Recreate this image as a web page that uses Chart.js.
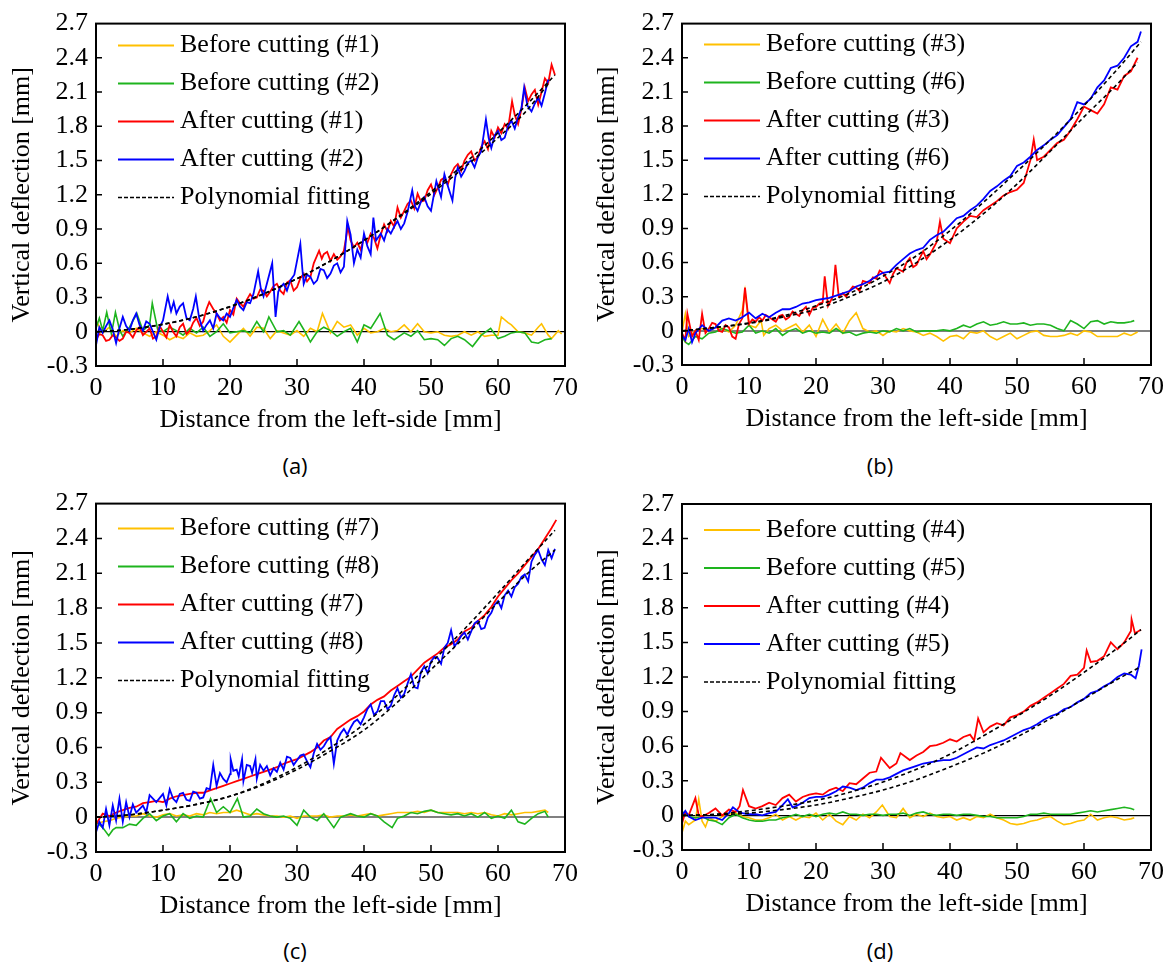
<!DOCTYPE html>
<html>
<head>
<meta charset="utf-8">
<script src="https://cdn.jsdelivr.net/npm/chart.js@4.4.0/dist/chart.umd.min.js"></script>
<style>
body { margin: 0; background: #fff; width: 1171px; height: 962px; position: relative; overflow: hidden; }
canvas { position: absolute; }
.cap { position: absolute; font-family: "Open Sans", sans-serif; font-size: 22px; transform: translate(-50%, -50%); color: #000; }
</style>
</head>
<body>
<canvas id="pa" width="585" height="450" style="left:0px;top:0px"></canvas>
<canvas id="pb" width="586" height="450" style="left:585px;top:0px"></canvas>
<canvas id="pc" width="585" height="450" style="left:0px;top:480px"></canvas>
<canvas id="pd" width="586" height="450" style="left:585px;top:480px"></canvas>
<div class="cap" id="capA" style="left:295px;top:465px"></div>
<div class="cap" id="capB" style="left:880px;top:465px"></div>
<div class="cap" id="capC" style="left:295px;top:950px"></div>
<div class="cap" id="capD" style="left:880px;top:950px"></div>
<script>
// axes
var xMin = 0, xMax = 70, xStep = 10;
var yMin = -0.3, yMax = 2.7, yStep = 0.3;
var xTitle = 'Distance from the left-side [mm]';
var yTitle = 'Vertical deflection [mm]';
var captions = ['(a)', '(b)', '(c)', '(d)'];

var labelsA = ['Before cutting (#1)', 'Before cutting (#2)', 'After cutting (#1)', 'After cutting (#2)', 'Polynomial fitting'];
var labelsB = ['Before cutting (#3)', 'Before cutting (#6)', 'After cutting (#3)', 'After cutting (#6)', 'Polynomial fitting'];
var labelsC = ['Before cutting (#7)', 'Before cutting (#8)', 'After cutting (#7)', 'After cutting (#8)', 'Polynomial fitting'];
var labelsD = ['Before cutting (#4)', 'Before cutting (#5)', 'After cutting (#4)', 'After cutting (#5)', 'Polynomial fitting'];

// (a) [x mm, deflection mm]
var aBefore1 = [[0,0.10],[1,-0.01],[2,0.04],[3,-0.04],[4,0.01],[5,-0.01],[6,0.03],[7,-0.01],[8,-0.04],[9,0],[10,-0.03],[11,-0.07],[12,-0.04],[13,-0.06],[14,-0.01],[15,-0.04],[16,-0.03],[17,0.01],[18,0.06],[19,-0.04],[20,-0.09],[21,-0.03],[22,0.03],[23,-0.04],[24,0.04],[25,0.03],[26,-0.06],[27,0.01],[28,-0.01],[29,-0.03],[30,0.01],[31,-0.04],[32,0.03],[33,0],[33.8,0.16],[35,-0.01],[36,0.09],[37,0.04],[38,0.06],[39,-0.03],[40,0.03],[41,-0.01],[42,0],[43,0.03],[44,0],[45,0.01],[46,0.06],[47,0],[48,0.07],[49,0],[50,-0.01],[51,0],[52,-0.03],[53,-0.04],[54,-0.03],[55,0],[56,-0.03],[57,0],[58,-0.04],[59,-0.03],[60,-0.03],[60.5,0.13],[61.5,0.08],[62,0.06],[63,0],[64,-0.01],[65,-0.03],[66,0.04],[66.5,0.07],[67.5,-0.03],[68,-0.06],[69,0.01],[69.5,-0.02]];
var aBefore2 = [[0,0.03],[0.5,0.12],[1,0.01],[1.6,0.17],[2.3,-0.02],[2.9,0.17],[3.5,0.02],[4,-0.04],[5,0.04],[6.1,0.16],[7,0.01],[8,0.06],[8.4,0.25],[9.2,0.02],[10,0],[11,0.04],[12,0.01],[13,-0.03],[14,0.03],[15,-0.01],[16,0.04],[17,-0.04],[18,0],[19,0.07],[20,-0.01],[21,0],[22,0.01],[23,-0.01],[24,0.09],[25,0],[25.8,0.13],[27,0],[28,0.01],[29,-0.03],[30.3,0.09],[31,0.02],[32,-0.09],[33,0],[34,0.04],[35,0.01],[36,-0.04],[37,0],[38,0.03],[39,-0.09],[40,0.06],[41,0.03],[42.4,0.16],[43.5,-0.03],[44.5,-0.07],[46,-0.01],[47,-0.04],[48,0.01],[49,-0.07],[50,-0.06],[51,-0.07],[52,-0.12],[53,-0.06],[54,-0.04],[55,-0.07],[56.2,-0.13],[57.5,-0.03],[58.9,0.03],[60,-0.06],[61,-0.04],[62,-0.01],[63,0],[64,-0.01],[65,-0.09],[66,-0.10],[67,-0.07],[68,-0.06]];
var aAfter1 = [[0,-0.07],[0.5,-0.02],[1,-0.03],[1.5,-0.08],[2,-0.07],[2.5,-0.03],[3,-0.05],[3.5,-0.08],[4,-0.06],[4.5,0],[5,-0.01],[5.5,-0.05],[6,0.01],[6.5,0.04],[7,-0.03],[7.5,0],[8,0.03],[8.5,-0.06],[9,-0.04],[9.5,0.05],[10,0],[10.5,-0.05],[11,0.06],[11.5,0],[12,-0.04],[12.5,0.04],[13,0.07],[13.5,-0.02],[14,0.01],[14.5,0.08],[15,0.12],[15.5,0.05],[16,0.09],[16.5,0.20],[16.9,0.26],[17.5,0.20],[18,0.16],[18.5,0.10],[19,0.13],[19.5,0.08],[20,0.19],[20.5,0.15],[21,0.29],[21.5,0.25],[22,0.22],[22.5,0.28],[23,0.33],[23.5,0.29],[24,0.30],[24.5,0.37],[25,0.36],[25.5,0.31],[26,0.35],[26.5,0.40],[27,0.42],[27.5,0.36],[28,0.33],[28.5,0.43],[29,0.45],[29.5,0.36],[30,0.39],[30.5,0.47],[31,0.51],[31.5,0.44],[32,0.48],[32.5,0.60],[33.3,0.71],[33.7,0.64],[34,0.68],[34.5,0.70],[35,0.62],[35.5,0.68],[36,0.63],[36.5,0.66],[37,0.71],[37.6,0.92],[38,0.80],[38.5,0.74],[39,0.78],[39.5,0.72],[40,0.83],[40.5,0.78],[41,0.86],[41.5,0.82],[42,0.73],[42.5,0.85],[43,0.94],[43.5,0.88],[44,0.97],[44.5,0.92],[45,1.09],[45.5,1.00],[46,1.06],[46.5,1.12],[47,1.15],[47.5,1.08],[48,1.21],[48.5,1.14],[49,1.15],[49.5,1.24],[50,1.29],[50.5,1.20],[51,1.26],[51.5,1.33],[52,1.35],[52.5,1.29],[53,1.38],[53.5,1.44],[54,1.47],[54.5,1.41],[55,1.50],[55.5,1.55],[56,1.58],[56.5,1.50],[57,1.53],[57.5,1.62],[58,1.67],[58.5,1.60],[59,1.76],[59.5,1.70],[60,1.79],[60.5,1.74],[61,1.82],[61.5,1.78],[62.1,2.02],[62.5,1.90],[63,1.82],[63.5,1.95],[64,2.14],[64.5,2.02],[65,2.08],[65.5,2.12],[66,1.99],[66.5,2.10],[67,2.22],[67.5,2.18],[68,2.34],[68.5,2.25]];
var aAfter2 = [[0,-0.12],[0.5,0.04],[1,-0.01],[1.5,0.05],[2,0.10],[2.5,0.02],[3,-0.10],[3.5,0.03],[4,0.13],[4.5,0.05],[5,0.01],[5.5,0.10],[6,0.16],[6.5,0.06],[7,0.01],[7.5,0.09],[8,0.07],[8.5,0],[9,-0.07],[9.5,0.04],[10,0.10],[10.7,0.31],[11.2,0.18],[11.6,0.26],[12,0.16],[12.5,0.22],[13,0.25],[13.5,0.12],[14,0.10],[14.5,0.20],[14.9,0.31],[15.4,0.12],[16,0.01],[16.5,0.06],[17,0.10],[17.5,0.03],[18,0.16],[18.5,0.12],[19,0.10],[19.5,0.16],[20,0.13],[20.5,0.21],[21,0.28],[21.5,0.22],[22,0.19],[22.5,0.26],[23,0.25],[23.5,0.33],[24.2,0.53],[24.6,0.38],[25,0.31],[25.5,0.42],[26.3,0.60],[26.8,0.13],[27.2,0.35],[27.5,0.39],[28,0.42],[28.5,0.36],[29,0.45],[29.6,0.50],[30.5,0.77],[30.8,0.55],[31,0.42],[31.5,0.50],[32,0.48],[32.5,0.42],[33,0.45],[33.5,0.55],[34,0.54],[34.5,0.47],[35,0.51],[35.5,0.58],[36,0.60],[36.5,0.52],[37,0.57],[37.5,0.97],[38,0.85],[38.5,0.60],[39,0.72],[39.5,0.65],[40,0.86],[40.5,0.75],[41,0.68],[41.4,1.00],[41.8,0.80],[42.5,0.86],[43,0.80],[43.5,0.90],[44,0.86],[44.5,0.92],[45,0.97],[45.5,0.90],[46,0.95],[46.5,1.05],[47.2,1.24],[47.6,1.10],[48,1.06],[48.5,1.14],[49,1.18],[49.5,1.10],[50,1.06],[50.8,1.32],[51.5,1.18],[52,1.38],[52.5,1.28],[53.2,1.15],[53.6,1.35],[54,1.44],[54.5,1.36],[55,1.41],[55.5,1.48],[56,1.50],[56.5,1.44],[57,1.53],[57.5,1.58],[58.2,1.86],[58.6,1.70],[59,1.61],[59.5,1.72],[60,1.76],[60.5,1.68],[61,1.70],[61.5,1.80],[62,1.85],[62.5,1.78],[63,1.88],[63.5,1.96],[63.9,2.14],[64.4,1.98],[65,1.93],[65.5,2.00],[66,2.05],[66.5,1.98],[67,2.09],[67.5,2.21]];
var aFit1 = [[0,0],[4,0.015],[8,0.045],[12,0.089],[16,0.147],[20,0.22],[24,0.307],[28,0.409],[32,0.525],[36,0.655],[40,0.80],[44,0.96],[48,1.134],[52,1.322],[56,1.525],[60,1.742],[64,1.973],[68,2.219],[68.5,2.25]];
var aFit2 = [[0,0],[4,0.015],[8,0.045],[12,0.089],[16,0.147],[20,0.22],[24,0.307],[28,0.409],[32,0.525],[36,0.655],[40,0.80],[44,0.955],[48,1.12],[52,1.30],[56,1.49],[60,1.70],[64,1.92],[67.5,2.17]];

// (b)
var bBefore1 = [[0,-0.01],[0.5,0.15],[1,-0.05],[2,0],[3,0.02],[4,0],[5,0.03],[6,0.02],[7,-0.01],[8,0.05],[9,0.18],[9.4,0.35],[10,0.05],[11,0.03],[11.8,0.09],[12.2,-0.04],[13,0.02],[14,0.05],[15,0],[16,0.03],[17,0.06],[18,-0.01],[19,0.05],[20,-0.05],[21,0.10],[22,-0.01],[23,0.06],[24,-0.02],[25,0.09],[26,0.16],[27,0.02],[28,-0.01],[29,0],[30,-0.04],[31,0],[32,-0.01],[33,0.02],[34,0],[35,-0.01],[36,-0.04],[37,-0.02],[38,-0.05],[39,-0.09],[40,-0.05],[41,-0.04],[42,-0.07],[43,-0.01],[44,-0.02],[45,0],[46,-0.05],[47,-0.08],[48,-0.05],[49,-0.02],[50,-0.07],[51,-0.04],[52,-0.01],[53,0],[54,-0.04],[55,-0.05],[56,-0.05],[57,-0.04],[58,-0.02],[59,-0.04],[60,0],[61,-0.01],[62,-0.05],[63,-0.05],[64,-0.05],[65,-0.05],[66,-0.02],[67,-0.04],[68,-0.01]];
var bBefore2 = [[0,-0.05],[0.5,-0.10],[1,-0.12],[2,-0.05],[3,-0.07],[4,-0.02],[5,-0.01],[6,0.02],[7,0],[8,-0.02],[9,-0.01],[10,0.05],[11,-0.02],[12,0],[13,-0.02],[14,0.02],[15,-0.04],[16,0],[17,0.02],[18,-0.02],[19,0],[20,-0.02],[21,-0.01],[22,-0.02],[23,0.02],[24,-0.02],[25,-0.01],[26,-0.04],[27,-0.02],[28,-0.01],[29,-0.02],[30,0],[31,-0.01],[32,0.02],[33,0],[34,0.02],[35,-0.01],[36,0],[37,0],[38,0],[39,0.01],[40,0],[41,0.02],[42,0.05],[43,0.03],[44,0.06],[45,0.08],[46,0.05],[47,0.06],[48,0.08],[49,0.06],[50,0.06],[51,0.07],[52,0.05],[53,0.06],[54,0.06],[55,0.05],[56,0.02],[57,0],[58,0.09],[59,0.06],[60,0.02],[61,0.08],[62,0.09],[63,0.06],[64,0.08],[65,0.07],[66,0.07],[67,0.08],[67.5,0.09]];
var bAfter1 = [[0,-0.02],[0.5,-0.08],[0.8,0.15],[1.5,-0.05],[2,0],[2.5,-0.08],[3,0.15],[3.5,-0.02],[4,0.02],[4.5,0.07],[5,0.06],[5.5,0],[6,-0.01],[6.5,0.05],[7,0.03],[7.5,-0.05],[8,-0.07],[8.5,0.06],[9,0.11],[9.4,0.38],[10,0.06],[10.5,0.1],[11,0.08],[11.5,0.12],[12,0.09],[12.5,0.14],[13,0.12],[13.5,0.1],[14,0.08],[14.5,0.13],[15,0.14],[15.5,0.1],[16,0.12],[16.5,0.17],[17,0.15],[17.5,0.13],[18,0.18],[18.5,0.21],[19,0.14],[19.5,0.2],[20,0.21],[20.5,0.24],[21,0.25],[21.3,0.48],[21.8,0.22],[22.5,0.30],[22.9,0.58],[23.4,0.30],[24,0.33],[24.5,0.3],[25,0.35],[25.5,0.39],[26,0.38],[26.5,0.35],[27,0.44],[28,0.42],[28.5,0.47],[29,0.46],[29.5,0.53],[30,0.51],[31,0.42],[31.5,0.5],[32,0.55],[33,0.52],[33.5,0.6],[34,0.64],[34.5,0.56],[35,0.58],[36,0.70],[36.5,0.63],[37,0.67],[38,0.78],[38.5,0.96],[39,0.81],[40,0.77],[41,0.90],[42,0.96],[43,1.01],[44,1.00],[45,1.06],[46,1.10],[47,1.14],[48,1.19],[49,1.22],[50,1.24],[51,1.30],[52,1.50],[52.5,1.68],[53,1.50],[54,1.53],[55,1.59],[56,1.65],[57,1.68],[58,1.76],[59,1.86],[60,1.97],[61,1.94],[62,1.91],[63,1.99],[64,2.14],[65,2.12],[66,2.24],[67,2.28],[68,2.40]];
var bAfter2 = [[0,-0.04],[0.5,-0.08],[1,0.02],[1.5,-0.10],[2,-0.02],[3,0.05],[4,0],[5,0.03],[6,0.09],[7,0.11],[8,0.09],[9,0.12],[10,0.16],[11,0.11],[12,0.15],[13,0.12],[14,0.16],[15,0.19],[16,0.19],[17,0.21],[18,0.24],[19,0.25],[20,0.27],[21,0.28],[22,0.29],[23,0.31],[24,0.33],[25,0.35],[26,0.39],[27,0.41],[28,0.44],[29,0.48],[30,0.51],[31,0.52],[32,0.58],[33,0.63],[34,0.68],[35,0.71],[36,0.73],[37,0.80],[38,0.84],[39,0.87],[40,0.93],[41,0.99],[42,1.01],[43,1.06],[44,1.10],[45,1.16],[46,1.23],[47,1.27],[48,1.32],[49,1.36],[50,1.45],[51,1.48],[52,1.53],[53,1.59],[54,1.63],[55,1.68],[56,1.72],[57,1.79],[58,1.86],[59,2.01],[60,1.99],[61,2.04],[62,2.14],[63,2.20],[64,2.31],[65,2.33],[66,2.40],[67,2.50],[68,2.54],[68.5,2.63]];
var bFit1 = [[0,0],[5,0.03],[10,0.065],[15,0.12],[20,0.19],[25,0.30],[30,0.43],[35,0.60],[40,0.80],[45,1.03],[50,1.29],[55,1.58],[60,1.88],[65,2.17],[68,2.36]];
var bFit2 = [[0,0],[5,0.03],[10,0.07],[15,0.13],[20,0.22],[25,0.33],[30,0.48],[35,0.66],[40,0.88],[45,1.13],[50,1.40],[55,1.68],[60,1.98],[65,2.30],[68.5,2.54]];

// (c)
var cBefore1 = [[0,-0.06],[1,-0.04],[2,-0.03],[3,-0.01],[4,0],[5,0.01],[6,0.01],[7,0.03],[8,0.01],[9,0],[10,0.02],[11,0.03],[12,0.01],[13,0.02],[14,0.01],[15,0.03],[16,0.02],[17,0.04],[18,0.03],[19,0.04],[20,0.04],[21,0.06],[22,0.04],[23,0.02],[24,0.03],[25,0.02],[26,0.01],[27,0.01],[28,0],[29,0.01],[30,-0.01],[31,0.01],[32,0.01],[33,0.01],[34,0.02],[35,0],[36,0.01],[37,0.01],[38,0.02],[39,0.01],[40,0.02],[41,0.03],[42,0.01],[43,0.02],[44,0.03],[45,0.04],[46,0.04],[47,0.04],[48,0.05],[49,0.04],[50,0.06],[51,0.04],[52,0.04],[53,0.04],[54,0.04],[55,0.03],[56,0.04],[57,0.03],[58,0.04],[59,0.02],[60,0.01],[61,0.03],[62,0.02],[63,0.03],[64,0.04],[65,0.04],[66,0.05],[67,0.06],[67.5,0.04]];
var cBefore2 = [[0,-0.04],[1,-0.09],[1.9,-0.16],[2.5,-0.11],[3,-0.09],[4,-0.09],[5,-0.06],[6,-0.07],[7,-0.01],[8,0.03],[9,-0.03],[10,0.01],[11,0.03],[12,-0.04],[13,0.03],[14,-0.01],[15,0.01],[16,0],[17.1,0.16],[18,0.04],[19,0.09],[20,0.04],[21.1,0.16],[22,0],[23,0.01],[24,0.07],[25,0.03],[26,0.01],[27,0],[28,0.01],[29,-0.01],[30,-0.07],[31,0.06],[32,0],[33,-0.03],[34,0.03],[35.5,-0.09],[36.5,0],[38,0.03],[39,0.01],[40,0],[41,0.03],[42,0.01],[43,-0.04],[44.2,-0.09],[45,-0.01],[46,0.01],[47,0.04],[48,0.03],[49,0.05],[50,0.06],[51,0.04],[52,0.03],[53,0.02],[54,0.03],[55,0.01],[56,0.03],[57,0],[58,0.04],[59,-0.01],[60,0.01],[61,-0.01],[62,0.06],[63,-0.04],[64,-0.06],[65,-0.01],[66,0.03],[67,0.05],[67.5,0]];
var cAfter1 = [[0,-0.06],[1,0.03],[2,0.01],[3,0.04],[4,0.06],[5,0.08],[6,0.09],[7,0.12],[8,0.13],[9,0.14],[10,0.13],[11,0.16],[12,0.18],[13,0.19],[14,0.20],[15,0.21],[16,0.21],[17,0.23],[18,0.25],[19,0.27],[20,0.29],[21,0.31],[22,0.33],[23,0.35],[24,0.37],[25,0.39],[26,0.41],[27,0.43],[28,0.46],[29,0.48],[30,0.50],[31,0.53],[32,0.56],[33,0.60],[34,0.66],[35,0.69],[36,0.76],[37,0.80],[38,0.84],[39,0.87],[40,0.91],[41,0.97],[42,1.01],[43,1.04],[44,1.09],[45,1.13],[46,1.17],[47,1.21],[48,1.27],[49,1.33],[50,1.37],[51,1.41],[52,1.46],[53,1.49],[54,1.53],[55,1.60],[56,1.63],[57,1.69],[58,1.74],[59,1.81],[60,1.90],[61,1.97],[62,2.04],[63,2.10],[64,2.17],[65,2.24],[66,2.31],[67,2.40],[68,2.49],[68.7,2.56]];
var cAfter2 = [[0,-0.13],[0.5,-0.04],[1,-0.09],[1.5,0.07],[2,-0.07],[2.5,0.10],[3,-0.03],[3.5,0.16],[4,-0.04],[4.5,0.13],[5,0],[5.5,0.11],[6,0.04],[7,0.10],[7.5,0.04],[8,0.19],[9,0.13],[10,0.20],[10.5,0.10],[11,0.24],[11.5,0.16],[12,0.13],[12.5,0.20],[13,0.21],[13.5,0.15],[14,0.14],[14.5,0.22],[15,0.21],[15.5,0.16],[16,0.17],[16.5,0.25],[17,0.24],[17.5,0.45],[18,0.27],[18.5,0.38],[19,0.33],[19.5,0.30],[20,0.37],[20.1,0.50],[20.5,0.40],[21,0.41],[21.3,0.35],[21.8,0.50],[22,0.31],[22.5,0.45],[23,0.44],[23.3,0.38],[23.8,0.50],[24,0.33],[24.5,0.45],[25,0.40],[25.5,0.44],[26,0.36],[26.5,0.42],[27,0.39],[27.5,0.47],[28,0.41],[28.5,0.52],[29,0.51],[29.5,0.45],[30,0.49],[30.5,0.53],[31,0.54],[31.5,0.48],[32,0.43],[32.5,0.55],[33,0.63],[33.5,0.58],[34,0.61],[34.5,0.66],[35,0.69],[35.5,0.46],[36,0.66],[36.5,0.72],[37,0.76],[37.5,0.71],[38,0.77],[38.5,0.82],[39,0.84],[39.5,0.80],[40,0.86],[40.5,0.93],[41,0.97],[41.5,0.88],[42,0.91],[42.5,1.00],[43,1.00],[43.5,0.93],[44,0.96],[44.5,1.05],[45,1.11],[45.5,1.03],[46,1.06],[46.5,1.15],[47,1.23],[47.5,1.12],[48,1.11],[48.5,1.25],[49,1.30],[49.5,1.24],[50,1.34],[50.5,1.38],[51,1.37],[51.5,1.32],[52,1.46],[52.5,1.50],[53,1.61],[53.5,1.47],[54,1.51],[54.5,1.56],[55,1.59],[55.5,1.53],[56,1.60],[56.5,1.67],[57,1.69],[57.5,1.62],[58,1.63],[58.5,1.72],[59,1.76],[59.5,1.83],[60,1.86],[60.5,1.80],[61,1.91],[61.5,1.95],[62,1.90],[62.5,1.98],[63,2.01],[63.5,2.07],[64,2.09],[64.5,2.03],[65,2.20],[65.5,2.26],[66,2.30],[66.5,2.22],[67,2.17],[67.5,2.30],[68,2.23],[68.5,2.31]];
var cFit1 = [[0,0],[5,0.02],[10,0.06],[15,0.11],[20,0.18],[25,0.29],[30,0.43],[35,0.60],[40,0.80],[45,1.05],[50,1.33],[55,1.62],[60,1.93],[65,2.25],[68.5,2.47]];
var cFit2 = [[0,0],[5,0.02],[10,0.06],[15,0.11],[20,0.18],[25,0.28],[30,0.41],[35,0.57],[40,0.75],[45,0.99],[50,1.27],[55,1.55],[60,1.85],[65,2.13],[68.5,2.30]];

// (d)
var dBefore1 = [[0,-0.15],[0.5,-0.05],[1,-0.08],[2,-0.04],[2.5,0.14],[3,-0.05],[3.5,-0.10],[4,-0.02],[5,-0.05],[6,-0.01],[7,0.01],[8,0.02],[9,-0.01],[10,-0.02],[11,-0.04],[12,-0.04],[13,-0.02],[14,0.01],[15,-0.04],[16,-0.01],[17,-0.04],[18,-0.01],[19,-0.02],[20,0.02],[21,-0.04],[22,0.01],[23,-0.05],[24,-0.08],[25,-0.01],[26,-0.04],[27,0.01],[28,-0.02],[29,0.03],[29.9,0.09],[31,-0.01],[32,-0.02],[33,0.06],[34,-0.02],[35,0.01],[36,-0.01],[37,0.02],[38,-0.01],[39,-0.02],[40,-0.01],[41,-0.04],[42,-0.02],[43,-0.04],[44,-0.01],[45,-0.02],[46,0.01],[47,-0.02],[48,-0.04],[49,-0.07],[50,-0.08],[51,-0.07],[52,-0.05],[53,-0.04],[54,-0.02],[55,-0.01],[56,-0.05],[57,-0.08],[58,-0.07],[59,-0.05],[60,-0.04],[61,0.01],[62,-0.04],[63,-0.02],[64,-0.01],[65,-0.02],[66,-0.04],[67,-0.03],[67.5,-0.02]];
var dBefore2 = [[0,0.03],[0.5,0.02],[1,-0.01],[2,-0.02],[3,-0.01],[4,-0.04],[5,-0.05],[6,-0.08],[7,-0.02],[8,0.01],[9,-0.02],[10,-0.04],[11,-0.05],[12,-0.05],[13,-0.04],[14,-0.04],[15,-0.02],[16,-0.01],[17,0.01],[18,-0.01],[19,0.01],[20,-0.01],[21,0.01],[22,0.02],[23,0.01],[24,0.03],[25,0.01],[26,0.01],[27,0],[28,0.01],[29,0.01],[30,0],[31,0.01],[32,0.01],[33,0.02],[34,0],[35,0.02],[36,0.03],[37,0.01],[38,0],[39,0.01],[40,0.01],[41,0],[42,0.01],[43,0.01],[44,0],[45,-0.01],[46,-0.01],[47,-0.02],[48,-0.02],[49,-0.02],[50,-0.02],[51,-0.01],[52,0.01],[53,0.01],[54,0.02],[55,0.01],[56,0.01],[57,0.01],[58,0.01],[59,0.02],[60,0.03],[61,0.04],[62,0.03],[63,0.04],[64,0.05],[65,0.06],[66,0.07],[67,0.06],[67.5,0.05]];
var dAfter1 = [[0,-0.07],[0.5,0.03],[1,0],[2,0.15],[2.5,0],[3,-0.01],[4,0.02],[5,0.06],[6,0],[7,0.05],[8,0.03],[8.6,0.08],[9.1,0.22],[10,0.08],[11,0.06],[12,0.08],[13,0.11],[14,0.09],[15,0.15],[16,0.18],[17,0.12],[18,0.16],[19,0.18],[20,0.19],[21,0.18],[22,0.22],[23,0.24],[24,0.21],[25,0.28],[26,0.27],[27,0.32],[28,0.37],[29,0.38],[29.7,0.50],[31,0.41],[32,0.45],[32.6,0.54],[34,0.48],[35,0.52],[36,0.55],[37,0.60],[38,0.61],[39,0.63],[40,0.66],[41,0.64],[42,0.68],[43,0.70],[43.6,0.65],[44.2,0.84],[45,0.72],[46,0.77],[47,0.80],[48,0.78],[49,0.85],[50,0.87],[51,0.90],[52,0.95],[53,0.98],[54,1.02],[55,1.06],[56,1.10],[57,1.14],[58,1.21],[59,1.22],[60,1.28],[60.4,1.43],[61,1.33],[62,1.34],[63,1.38],[64,1.50],[65,1.44],[66,1.50],[67,1.60],[67.1,1.70],[67.6,1.58],[68.5,1.61]];
var dAfter2 = [[0,0],[0.5,0.04],[1,-0.01],[2,-0.04],[3,-0.02],[4,-0.02],[5,-0.02],[6,-0.04],[7,0.02],[7.6,0.07],[8.5,0.03],[9,0.02],[10,0.01],[11,0.01],[12,0],[13,0.02],[14,0.03],[15,0.09],[15.8,0.14],[16.5,0.07],[17,0.08],[18,0.11],[19,0.15],[20,0.16],[21,0.16],[22,0.18],[23,0.21],[24,0.25],[25,0.24],[26,0.22],[27,0.24],[28,0.28],[29,0.31],[30,0.31],[31,0.33],[32,0.36],[33,0.39],[34,0.41],[35,0.43],[36,0.45],[37,0.46],[38,0.47],[39,0.48],[40,0.48],[41,0.50],[42,0.53],[43,0.56],[44,0.59],[45,0.58],[46,0.61],[47,0.63],[48,0.65],[49,0.68],[50,0.71],[51,0.74],[52,0.76],[53,0.79],[54,0.83],[55,0.86],[56,0.88],[57,0.92],[58,0.94],[59,0.98],[60,1.01],[61,1.06],[62,1.08],[63,1.12],[64,1.15],[65,1.20],[66,1.23],[67,1.22],[67.7,1.19],[68.2,1.30],[68.6,1.44]];
var dFit1 = [[0,0],[5,0.01],[10,0.04],[15,0.08],[20,0.13],[25,0.20],[30,0.29],[35,0.40],[40,0.53],[45,0.69],[50,0.86],[55,1.04],[60,1.24],[65,1.45],[68.5,1.61]];
var dFit2 = [[0,0],[5,0.005],[10,0.02],[15,0.05],[20,0.09],[25,0.15],[30,0.22],[35,0.31],[40,0.42],[45,0.54],[50,0.68],[55,0.84],[60,1.01],[65,1.18],[68.5,1.29]];

var colors = ['#FFC000', '#1EB41E', '#FF0000', '#0000FF', '#000000'];
var serif = '"Liberation Serif", "Times New Roman", serif';

function pts(arr) {
	return arr.map(p => ({x: p[0], y: p[1]}));
}

var frame = {
	id: 'frame',
	afterDatasetsDraw(chart) {
		var ctx = chart.ctx, a = chart.chartArea;
		var xs = chart.scales.x, ys = chart.scales.y;
		ctx.save();
		ctx.strokeStyle = '#000';
		ctx.lineWidth = 2;
		ctx.strokeRect(a.left, a.top, a.right - a.left, a.bottom - a.top);
		ctx.lineWidth = 1.5;
		ctx.beginPath();
		xs.ticks.forEach(t => {
			if (t.value > xs.min && t.value < xs.max) {
				var px = xs.getPixelForValue(t.value);
				ctx.moveTo(px, a.bottom);
				ctx.lineTo(px, a.bottom - 7);
			}
		});
		ys.ticks.forEach(t => {
			if (t.value > ys.min + 1e-6 && t.value < ys.max - 1e-6) {
				var py = ys.getPixelForValue(t.value);
				ctx.moveTo(a.left, py);
				ctx.lineTo(a.left + 6, py);
			}
		});
		ctx.stroke();
		ctx.restore();
	}
};

var insideLegend = {
	id: 'insideLegend',
	afterDraw(chart, args, opts) {
		var ctx = chart.ctx, a = chart.chartArea;
		ctx.save();
		ctx.font = '26px ' + serif;
		ctx.textBaseline = 'middle';
		opts.labels.forEach((lab, i) => {
			var y = a.top + opts.first + i * opts.gap;
			ctx.strokeStyle = colors[i];
			ctx.lineWidth = i === 4 ? 1.5 : 2;
			ctx.setLineDash(i === 4 ? [4, 2] : []);
			ctx.beginPath();
			ctx.moveTo(a.left + 22, y);
			ctx.lineTo(a.left + 78, y);
			ctx.stroke();
			ctx.setLineDash([]);
			ctx.fillStyle = '#000';
			ctx.fillText(lab, a.left + 84, y);
		});
		ctx.restore();
	}
};

function makeGraph(id, labels, series, fits, lay) {
	var datasets = [];
	series.forEach((s, i) => {
		datasets.push({
			label: labels[i],
			data: pts(s),
			borderColor: colors[i],
			borderWidth: i < 2 ? 1.6 : 1.8,
			pointRadius: 0,
			showLine: true,
			fill: false,
			order: 4 - i
		});
	});
	fits.forEach(f => {
		datasets.push({
			label: labels[4],
			data: pts(f),
			borderColor: '#000',
			borderWidth: 1.6,
			borderDash: [4, 3],
			pointRadius: 0,
			showLine: true,
			fill: false,
			cubicInterpolationMode: 'monotone',
			order: 0
		});
	});

	var ctx = document.getElementById(id);
	return new Chart(ctx, {
		type: 'scatter',
		data: {datasets: datasets},
		options: {
			responsive: false,
			maintainAspectRatio: false,
			animation: false,
			layout: {padding: {left: 0, right: lay.right, top: lay.top, bottom: lay.bottom}},
			plugins: {
				legend: {display: false},
				tooltip: {enabled: false},
				insideLegend: {labels: labels, first: lay.legendFirst, gap: 38}
			},
			scales: {
				x: {
					type: 'linear',
					min: xMin, max: xMax,
					afterFit: s => { s.height = 70; },
					grid: {display: false, drawTicks: false},
					border: {display: false},
					ticks: {stepSize: xStep, autoSkip: false, maxRotation: 0, padding: 7, color: '#000', font: {family: serif, size: 26}},
					title: {display: true, text: xTitle, color: '#000', font: {family: serif, size: 26}, padding: {top: 0, bottom: 0}}
				},
				y: {
					type: 'linear',
					min: yMin, max: yMax,
					afterFit: s => { s.width = lay.left; },
					grid: {
						drawTicks: false,
						color: c => Math.abs(c.tick.value) < 1e-6 ? lay.zeroColor : 'rgba(0,0,0,0)',
						lineWidth: c => Math.abs(c.tick.value) < 1e-6 ? lay.zeroWidth : 0
					},
					border: {display: false},
					ticks: {
						stepSize: yStep, autoSkip: false, padding: 8, color: '#000',
						font: {family: serif, size: 26},
						callback: v => Math.abs(v) < 1e-6 ? '0' : v.toFixed(1)
					},
					title: {display: true, text: yTitle, color: '#000', font: {family: serif, size: 26}, padding: {top: 7, bottom: 0}}
				}
			}
		},
		plugins: [frame, insideLegend]
	});
}

makeGraph('pa', labelsA, [aBefore1, aBefore2, aAfter1, aAfter2], [aFit1, aFit2],
	{left: 96, right: 20, top: 22, bottom: 14, legendFirst: 22, zeroColor: '#000', zeroWidth: 1.3});
makeGraph('pb', labelsB, [bBefore1, bBefore2, bAfter1, bAfter2], [bFit1, bFit2],
	{left: 97, right: 20, top: 19, bottom: 15, legendFirst: 21, zeroColor: '#808080', zeroWidth: 2});
makeGraph('pc', labelsC, [cBefore1, cBefore2, cAfter1, cAfter2], [cFit1, cFit2],
	{left: 96, right: 20, top: 22, bottom: 8, legendFirst: 25, zeroColor: '#808080', zeroWidth: 2});
makeGraph('pd', labelsD, [dBefore1, dBefore2, dAfter1, dAfter2], [dFit1, dFit2],
	{left: 97, right: 20, top: 24, bottom: 10, legendFirst: 26, zeroColor: '#000', zeroWidth: 1.3});

document.getElementById('capA').textContent = captions[0];
document.getElementById('capB').textContent = captions[1];
document.getElementById('capC').textContent = captions[2];
document.getElementById('capD').textContent = captions[3];
</script>
</body>
</html>
